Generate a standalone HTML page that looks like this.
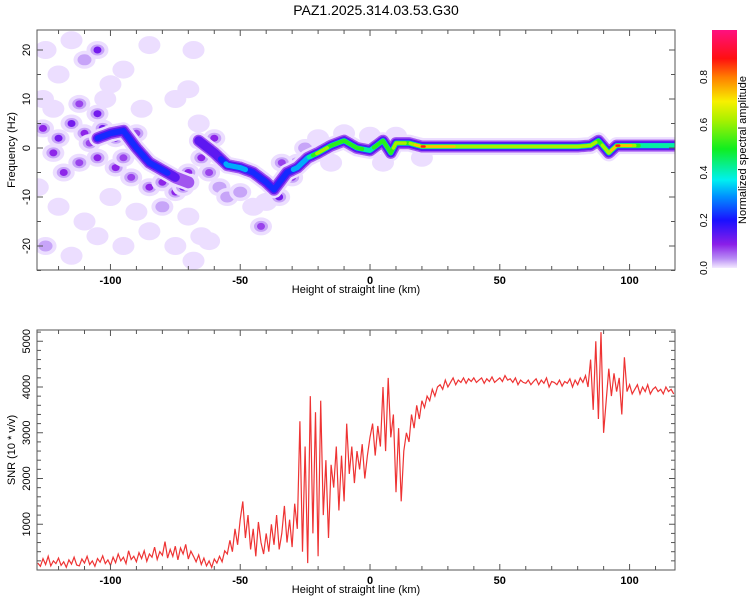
<!DOCTYPE html>
<html><head><meta charset="utf-8"><style>
html,body{margin:0;padding:0;background:#fff;}
svg{display:block;font-family:"Liberation Sans",sans-serif;}
</style></head><body>
<svg id="s" width="750" height="600" viewBox="0 0 750 600">
<defs>
<linearGradient id="cb" x1="0" y1="1" x2="0" y2="0">
<stop offset="0" stop-color="#f4eaff"/><stop offset="0.04" stop-color="#b88cf5"/>
<stop offset="0.1" stop-color="#8a1ee8"/><stop offset="0.2" stop-color="#1a10ff"/>
<stop offset="0.3" stop-color="#0090ff"/><stop offset="0.37" stop-color="#00f0f0"/>
<stop offset="0.5" stop-color="#10ee20"/><stop offset="0.62" stop-color="#a8f000"/>
<stop offset="0.7" stop-color="#f8f000"/><stop offset="0.8" stop-color="#ff8000"/>
<stop offset="0.88" stop-color="#ff1010"/><stop offset="1" stop-color="#ff1080"/>
</linearGradient>
<clipPath id="c1"><rect x="37" y="30" width="638" height="240"/></clipPath>
<clipPath id="c2"><rect x="37" y="330" width="638" height="240"/></clipPath>
</defs>
<text x="376" y="15" text-anchor="middle" font-size="14">PAZ1.2025.314.03.53.G30</text>
<g id="spec" clip-path="url(#c1)"></g>
<g id="snr" clip-path="url(#c2)"></g>
<g id="axes"></g>
<rect x="712" y="30" width="25" height="238" fill="url(#cb)"/>
<text transform="translate(746,150) rotate(-90)" text-anchor="middle" font-size="11">Normalized spectral amplitude</text>
<text x="356" y="293" text-anchor="middle" font-size="11">Height of straight line (km)</text>
<text x="356" y="593" text-anchor="middle" font-size="11">Height of straight line (km)</text>
<text transform="translate(15,150) rotate(-90)" text-anchor="middle" font-size="11">Frequency (Hz)</text>
<text transform="translate(15,450) rotate(-90)" text-anchor="middle" font-size="11">SNR (10 * v/v)</text>
</svg>
<script>
const xTicks=[-100,-50,0,50,100];
const fTicks=[20,10,0,-10,-20];
const snrTicks=[1000,2000,3000,4000,5000];
const cbTicks=[0.0,0.2,0.4,0.6,0.8];
const snrStart=-128;
const snrValues=[150,80,250,120,300,90,200,140,260,100,
180,60,220,130,280,110,90,240,150,300,
120,200,80,250,170,310,140,220,100,280,
160,350,200,280,140,420,230,300,180,380,
250,420,190,350,280,500,230,400,320,620,
260,450,300,520,220,480,350,560,240,410,
300,180,330,120,260,90,200,60,240,150,
300,180,420,350,650,400,900,550,1100,1500,
700,1200,450,900,300,1050,600,350,800,400,
1000,550,1200,450,800,1400,600,1100,500,1450,
900,3250,400,2700,150,3800,800,3450,300,3700,
1200,2400,700,2300,1800,2700,1300,2500,1500,3200,
2100,2700,1900,2600,2200,2750,2000,2500,2900,3200,
2500,3150,2700,4000,2600,4200,2900,3400,1700,3100,
1500,2600,3000,2800,3400,3100,3600,3300,3700,3550,
3800,3700,3950,3800,4000,4050,3950,4150,4000,4100,
4200,4050,4150,4100,4200,4080,4180,4120,4200,4100,
4150,4200,4080,4180,4120,4220,4100,4150,4200,4120,
4250,4150,4180,4100,4200,4050,4150,4100,4080,4150,
4050,4120,4180,4050,4150,4080,4200,4000,4120,4100,
4050,4150,4020,4120,4080,4180,4000,4150,4050,4200,
4100,4250,4000,4600,3500,5000,3300,5200,3000,3700,
4400,3800,4300,3900,4200,3400,4650,3900,4050,3850,
3950,4050,3850,4000,3900,4050,3850,3950,4000,3900,
3950,3850,4000,3900,3950,3850];
const ridgeX=[-105,-100,-95,-90,-85,-80,-75,-70,-68,-67,-66,-60,-55,-50,-45,-40,-37,-32,-28,-24,-20,-15,-10,-5,0,5,8,10,15,20,25,40,60,80,85,88,92,95,100,105,117];
const ridgeF=[2,3,3.5,0,-3,-4.5,-6,-7,-7,1.5,1.5,-1,-3.5,-4,-5,-7,-8.5,-5,-4,-2,-1,0.5,1.5,0,-0.5,1.5,-1,1,1,0.3,0.3,0.3,0.3,0.3,0.5,1.5,-1,0.5,0.5,0.5,0.5];
const ridgeA=[0.25,0.3,0.3,0.3,0.3,0.3,0.15,0.1,0,0,0.15,0.15,0.35,0.35,0.3,0.3,0.3,0.3,0.35,0.4,0.7,0.6,0.6,0.55,0.5,0.6,0.6,0.7,0.6,0.9,0.8,0.7,0.65,0.7,0.7,0.6,0.7,0.9,0.8,0.45,0.45];
const blobX=[-125,-120,-115,-110,-105,-100,-95,-85,-75,-70,-68,-122,-112,-105,-102,-126,-120,-115,-110,-108,-103,-98,-122,-118,-112,-105,-98,-95,-90,-92,-85,-80,-75,-72,-70,-65,-62,-58,-55,-50,-45,-42,-40,-120,-110,-100,-90,-80,-70,-65,-125,-115,-105,-95,-75,-68,-62,-85,-128,-126,-88,-66,-60,-35,-30,-28,-25,-20,-10,0,10,-15,5,20,-34];
const blobF=[20,15,22,18,20,13,16,21,10,12,20,8,9,7,10,4,2,5,3,1,4,2,-1,-5,-3,-2,-4,-2,3,-6,-8,-7,-9,-8,-5,-2,-5,-8,-10,-9,-12,-16,-11,-12,-15,-10,-13,-12,-14,-18,-20,-22,-18,-20,-20,-23,-19,-17,-8,10,8,5,2,-10,-6,-3,0,2,3,2.5,2.5,-3,-3,-2,-3];
const blobA=[.05,.05,.04,.08,.15,.05,.04,.04,.05,.05,.04,.05,.1,.15,.05,.12,.15,.15,.12,.1,.15,.15,.12,.12,.1,.12,.12,.1,.1,.1,.12,.12,.12,.15,.12,.12,.1,.08,.08,.08,.05,.1,.05,.05,.04,.04,.05,.06,.05,.05,.06,.04,.05,.04,.05,.05,.05,.04,.05,.05,.04,.05,.12,.15,.1,.08,.06,.04,.04,.04,.03,.04,.03,.03,.1];

const NS='http://www.w3.org/2000/svg';
const X0=37,X1=675,KM0=-128.3,KM1=117.5;
const xs=k=>X0+(k-KM0)*(X1-X0)/(KM1-KM0);
const yf=f=>148-f*4.9;
const ys=v=>570-v*0.04575;
function mk(t,a,p){const e=document.createElementNS(NS,t);for(const k in a)e.setAttribute(k,a[k]);p.appendChild(e);return e;}
const stops=[[0,[244,234,255]],[0.04,[184,140,245]],[0.1,[138,30,232]],[0.2,[26,16,255]],[0.3,[0,144,255]],[0.37,[0,240,240]],[0.5,[16,238,32]],[0.62,[168,240,0]],[0.7,[248,240,0]],[0.8,[255,128,0]],[0.88,[255,16,16]],[1,[255,16,128]]];
function cmap(v){for(let i=1;i<stops.length;i++){if(v<=stops[i][0]){const a=stops[i-1],b=stops[i],t=(v-a[0])/(b[0]-a[0]);return 'rgb('+a[1].map((c,j)=>Math.round(c+(b[1][j]-c)*t)).join(',')+')';}}return 'rgb(255,16,128)';}

const spec=document.getElementById('spec');
blobX.forEach((bx,i)=>{
 const g=mk('g',{},spec);
 
 
 const cx=xs(bx),cy=yf(blobF[i]);
 mk('ellipse',{cx:cx,cy:cy,rx:11,ry:9,fill:'rgb(236,222,255)'},g);
 if(blobA[i]>=0.06) mk('ellipse',{cx:cx,cy:cy,rx:7,ry:5.5,fill:cmap(0.03)},g);
 if(blobA[i]>=0.1) mk('ellipse',{cx:cx,cy:cy,rx:4,ry:3.5,fill:cmap(blobA[i]*0.8)},g);
});
function interp(k){for(let i=1;i<ridgeX.length;i++){if(k<=ridgeX[i]){const t=(k-ridgeX[i-1])/(ridgeX[i]-ridgeX[i-1]);return [ridgeF[i-1]+(ridgeF[i]-ridgeF[i-1])*t,ridgeA[i-1]+(ridgeA[i]-ridgeA[i-1])*t];}}return [ridgeF[ridgeF.length-1],ridgeA[ridgeA.length-1]];}
const levels=[0.01,0.05,0.12,0.2,0.3,0.4,0.5,0.6,0.72,0.85];
const rg=mk('g',{},spec);


levels.forEach(lv=>{
 let d='';let prev=null;
 for(let k=ridgeX[0];k<=ridgeX[ridgeX.length-1];k+=0.5){
  const [f,a]=interp(k);
  if(a>=lv+0.03){d+=(prev?'L':'M')+xs(k).toFixed(1)+' '+yf(f).toFixed(1);prev=1;}else prev=null;
 }
 if(!d)return;
 const w=lv<0.02?17:lv<0.06?12:lv<0.15?9:Math.max(2.5,7-lv*6);
 const col=lv<0.02?'rgb(236,222,255)':cmap(lv+0.02);
 mk('path',{d:d,fill:'none',stroke:col,'stroke-width':w,'stroke-linecap':'round','stroke-linejoin':'round'},rg);
});
const snr=document.getElementById('snr');
let d='';
snrValues.forEach((v,i)=>{d+=(i?'L':'M')+xs(snrStart+i).toFixed(1)+' '+ys(v).toFixed(1);});
const ln=mk('path',{d:d,fill:'none',stroke:'#ee3333','stroke-width':1.2},snr);



const ax=document.getElementById('axes');
[[30,270],[330,570]].forEach(([t,b],pi)=>{
 const fr=mk('rect',{x:X0,y:t,width:X1-X0,height:b-t,fill:'none',stroke:'#555','stroke-width':1},ax);
 
 
 for(let k=-120;k<=110;k+=10){const x=xs(k);const L=k%50===0?6:4;
  mk('line',{x1:x,x2:x,y1:b,y2:b-L,stroke:'#555'},ax);mk('line',{x1:x,x2:x,y1:t,y2:t+L,stroke:'#555'},ax);}
 xTicks.forEach(k=>{const tx=mk('text',{x:xs(k),y:b+14,'text-anchor':'middle','font-size':11,'font-weight':'bold'},ax);tx.textContent=k;
  
  });
});
for(let f=-25;f<=24;f+=5){const y=yf(f);const L=f%10===0?6:4;mk('line',{x1:X0,x2:X0+L,y1:y,y2:y,stroke:'#555'},ax);mk('line',{x1:X1,x2:X1-L,y1:y,y2:y,stroke:'#555'},ax);}
fTicks.forEach(f=>{const tx=mk('text',{transform:'translate(30,'+yf(f)+') rotate(-90)','text-anchor':'middle','font-size':11},ax);tx.textContent=f;
 
 });
for(let v=200;v<=5200;v+=200){const y=ys(v);const L=v%1000===0?6:4;mk('line',{x1:X0,x2:X0+L,y1:y,y2:y,stroke:'#555'},ax);mk('line',{x1:X1,x2:X1-L,y1:y,y2:y,stroke:'#555'},ax);}
snrTicks.forEach(v=>{const tx=mk('text',{transform:'translate(30,'+ys(v)+') rotate(-90)','text-anchor':'middle','font-size':11},ax);tx.textContent=v;
 
 });
cbTicks.forEach(v=>{const y=268-v*238.75;const tx=mk('text',{transform:'translate(707,'+y+') rotate(-90)','text-anchor':'middle','font-size':10},ax);tx.textContent=v.toFixed(1);
 
 });
</script>
</body></html>
